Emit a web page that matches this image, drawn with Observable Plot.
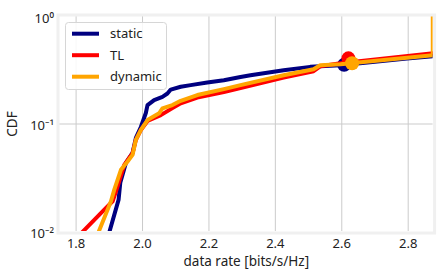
<!DOCTYPE html>
<html>
<head>
<meta charset="utf-8">
<script src="https://cdn.jsdelivr.net/npm/d3@7"></script>
<script src="https://cdn.jsdelivr.net/npm/@observablehq/plot@0.6"></script>
<style>
  html, body { margin: 0; padding: 0; background: white; }
</style>
</head>
<body>
<div id="chart"></div>
<script>
// ---- data ----
const seriesNames = ["static", "TL", "dynamic"];
const seriesColors = ["#000080", "#ff0000", "#ffa500"];

const staticX = [1.899, 1.928, 1.933, 1.950, 1.970, 1.980, 1.995, 2.010, 2.015, 2.035, 2.060, 2.075, 2.085, 2.115, 2.145, 2.195, 2.245, 2.295, 2.325, 2.425, 2.505, 2.596, 2.796, 2.876];
const staticY = [0.0096, 0.0198, 0.0284, 0.0435, 0.0539, 0.0742, 0.0938, 0.1265, 0.150, 0.167, 0.179, 0.192, 0.209, 0.222, 0.230, 0.243, 0.255, 0.274, 0.284, 0.316, 0.340, 0.352, 0.406, 0.428];

const tlX = [1.815, 1.885, 1.910, 1.925, 1.945, 1.970, 1.980, 1.995, 2.015, 2.055, 2.090, 2.115, 2.165, 2.245, 2.295, 2.425, 2.515, 2.535, 2.596, 2.876];
const tlY = [0.0096, 0.0160, 0.0191, 0.0263, 0.0417, 0.0535, 0.0713, 0.088, 0.1066, 0.121, 0.1406, 0.156, 0.176, 0.198, 0.2155, 0.270, 0.310, 0.344, 0.367, 0.455];

const dynamicX = [1.866, 1.905, 1.915, 1.935, 1.955, 1.970, 1.980, 1.995, 2.015, 2.050, 2.060, 2.090, 2.115, 2.165, 2.245, 2.295, 2.425, 2.515, 2.535, 2.596, 2.874, 2.874];
const dynamicY = [0.0096, 0.0191, 0.0245, 0.0375, 0.0448, 0.0516, 0.0713, 0.088, 0.1089, 0.1256, 0.1397, 0.150, 0.1643, 0.186, 0.211, 0.2297, 0.284, 0.323, 0.352, 0.360, 0.4355, 1.05];

const markerX = [2.607, 2.620, 2.631];
const markerY = [0.355, 0.408, 0.367];

const xTicks = [1.8, 2.0, 2.2, 2.4, 2.6, 2.8];
const xTickLabels = ["1.8", "2.0", "2.2", "2.4", "2.6", "2.8"];
const yTicks = [0.01, 0.1, 1];
const yTickLabels = ["10\u207B\u00B2", "10\u207B\u00B9", "10\u2070"];
const yGrid = [0.1];

const xLabel = "data rate [bits/s/Hz]";
const yLabel = "CDF";

// ---- build ----
const xs = [staticX, tlX, dynamicX];
const ys = [staticY, tlY, dynamicY];
const series = seriesNames.map((name, i) => ({
  name,
  color: seriesColors[i],
  rows: xs[i].map((x, j) => ({x, y: ys[i][j]})),
  marker: [{x: markerX[i], y: markerY[i]}]
}));

const font = "Noto Sans";
const textColor = "#222";

const marks = [
  Plot.ruleX(xTicks, {stroke: "#cbcbcb", strokeWidth: 1}),
  Plot.ruleY(yGrid, {stroke: "#cbcbcb", strokeWidth: 1}),
];
for (const s of series) {
  marks.push(Plot.line(s.rows, {x: "x", y: "y", stroke: s.color, strokeWidth: 4, strokeLinejoin: "round", clip: true}));
  marks.push(Plot.dot(s.marker, {x: "x", y: "y", r: 7, fill: s.color, stroke: "none", clip: true}));
}
marks.push(
  Plot.frame({stroke: "#f0f0f0", strokeWidth: 3, inset: -1.5}),
  Plot.axisX(xTicks, {tickSize: 0, tickPadding: 7, fontSize: 13, fill: textColor, label: null,
    tickFormat: d => xTickLabels[xTicks.indexOf(d)]}),
  Plot.axisY(yTicks, {tickSize: 0, tickPadding: 5.5, fontSize: 13, fill: textColor, label: null, dy: 2,
    tickFormat: d => yTickLabels[yTicks.indexOf(d)]}),
  Plot.text([xLabel], {frameAnchor: "bottom", lineAnchor: "middle", dy: 30, fontSize: 13.5, fill: textColor}),
  Plot.text([yLabel], {frameAnchor: "left", lineAnchor: "middle", textAnchor: "middle", dx: -47, rotate: -90, fontSize: 13.5, fill: textColor})
);

const svg = Plot.plot({
  width: 441,
  height: 275,
  marginLeft: 59,
  marginRight: 8.4,
  marginTop: 16,
  marginBottom: 44,
  style: {fontFamily: font, fontSize: "13px", background: "white", color: textColor},
  x: {domain: [1.75, 2.875]},
  y: {type: "log", domain: [0.01, 1]},
  marks
});

// ---- legend (inside plot, upper left) ----
const lg = d3.select(svg).append("g")
  .attr("font-family", font).attr("font-size", 13).attr("text-anchor", "start");
lg.append("rect")
  .attr("x", 65.5).attr("y", 22.5).attr("width", 101).attr("height", 67)
  .attr("rx", 3).attr("fill", "white").attr("fill-opacity", 0.85)
  .attr("stroke", "#d6d6d6").attr("stroke-width", 1);
series.forEach((s, i) => {
  const cy = 33.7 + i * 21.5;
  lg.append("line").attr("x1", 72).attr("x2", 99).attr("y1", cy).attr("y2", cy)
    .attr("stroke", s.color).attr("stroke-width", 4);
  lg.append("text").attr("x", 110).attr("y", cy).attr("dy", "0.35em")
    .attr("text-anchor", "start").attr("fill", textColor).text(s.name);
});

document.getElementById("chart").appendChild(svg);
</script>
</body>
</html>
